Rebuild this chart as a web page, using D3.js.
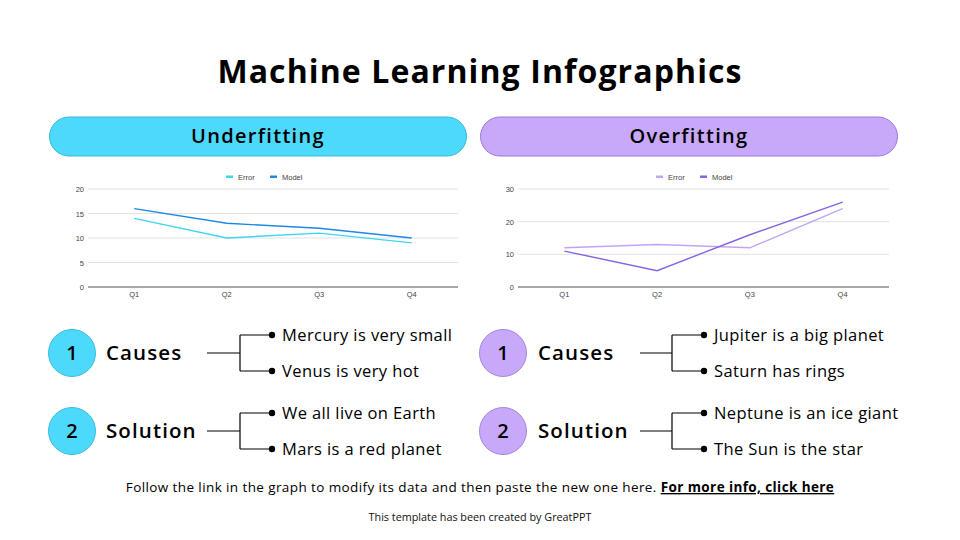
<!DOCTYPE html>
<html><head><meta charset="utf-8">
<script src="https://cdn.jsdelivr.net/npm/d3@7"></script>
<style>
html,body{margin:0;padding:0;background:#fff;}
svg{display:block;font-family:"Open Sans","Noto Sans",sans-serif;}
</style></head>
<body>
<svg id="c" width="960" height="540"></svg>
<script>
const quarters = ["Q1","Q2","Q3","Q4"];
const seriesNames = ["Error","Model"];
const underError = [14,10,11,9];
const underModel = [16,13,12,10];
const overError = [12,13,12,24];
const overModel = [11,5,16,26];
const underTicks = [0,5,10,15,20];
const overTicks = [0,10,20,30];
const panelTitles = ["Underfitting","Overfitting"];
const stepLabels = ["Causes","Solution"];
const underItems = [["Mercury is very small","Venus is very hot"],["We all live on Earth","Mars is a red planet"]];
const overItems = [["Jupiter is a big planet","Saturn has rings"],["Neptune is an ice giant","The Sun is the star"]];

const svg = d3.select("#c");

svg.append("text").attr("x",480).attr("y",83).attr("text-anchor","middle")
  .attr("font-size",32).attr("font-weight",700).attr("fill","#000")
  .attr("letter-spacing","1.1").text("Machine Learning Infographics");

const panels = [
  {x0:49, title:panelTitles[0], fill:"#4dd9fc", stroke:"#35b9dc", circ:"#4dd9fc", circStroke:"#3bbde0",
   err:underError, mod:underModel, ticks:underTicks, ymax:20, errC:"#3fd6f2", modC:"#1e88e5",
   gx0:88, gx1:458, legX:226, items:underItems, circX:72, labX:106, conX0:207, conX1:240, conX2:272},
  {x0:480, title:panelTitles[1], fill:"#c8a8f9", stroke:"#9b78e2", circ:"#c8a8f9", circStroke:"#a587e6",
   err:overError, mod:overModel, ticks:overTicks, ymax:30, errC:"#c3a4f4", modC:"#8763e3",
   gx0:518, gx1:889, legX:656, items:overItems, circX:503, labX:538, conX0:640, conX1:672, conX2:704}
];

panels.forEach(p => {
  // banner
  svg.append("rect").attr("x",p.x0+0.5).attr("y",117).attr("width",417).attr("height",39)
    .attr("rx",19.5).attr("fill",p.fill).attr("stroke",p.stroke).attr("stroke-width",1);
  svg.append("text").attr("x",p.x0+209).attr("y",143).attr("text-anchor","middle")
    .attr("font-size",20).attr("font-weight",600).attr("fill","#000").attr("letter-spacing","1.3").text(p.title);

  // chart
  const x = d3.scalePoint().domain(quarters).range([p.gx0,p.gx1]).padding(0.5);
  const y = d3.scaleLinear().domain([0,p.ymax]).range([287,189]);
  const g = svg.append("g");
  g.append("g").selectAll("line").data(p.ticks.filter(t=>t>0)).join("line")
    .attr("x1",p.gx0).attr("x2",p.gx1).attr("y1",d=>y(d)).attr("y2",d=>y(d))
    .attr("stroke","#e2e2e2").attr("stroke-width",1);
  g.append("line").attr("x1",p.gx0).attr("x2",p.gx1).attr("y1",y(0)).attr("y2",y(0))
    .attr("stroke","#8a8a8a").attr("stroke-width",1.6);
  g.append("g").selectAll("text").data(p.ticks).join("text")
    .attr("x",p.gx0-4).attr("y",d=>y(d)+3).attr("text-anchor","end")
    .attr("font-size",7.5).attr("fill","#444").attr("font-family","Arial, 'Liberation Sans', sans-serif").text(d=>d);
  g.append("g").selectAll("text").data(quarters).join("text")
    .attr("x",d=>x(d)).attr("y",297).attr("text-anchor","middle")
    .attr("font-size",7.5).attr("fill","#444").attr("font-family","Arial, 'Liberation Sans', sans-serif").text(d=>d);
  const line = d3.line().x((d,i)=>x(quarters[i])).y(d=>y(d));
  g.append("path").datum(p.err).attr("d",line).attr("fill","none").attr("stroke",p.errC).attr("stroke-width",1.4);
  g.append("path").datum(p.mod).attr("d",line).attr("fill","none").attr("stroke",p.modC).attr("stroke-width",1.4);
  // legend
  const legCols = [p.errC,p.modC];
  const legOff = [0,44];
  seriesNames.forEach((n,i)=>{
    g.append("rect").attr("x",p.legX+legOff[i]).attr("y",175.5).attr("width",7).attr("height",2.5).attr("fill",legCols[i]);
    g.append("text").attr("x",p.legX+legOff[i]+12).attr("y",179.5).attr("font-size",7.5).attr("fill","#444")
      .attr("font-family","Arial, 'Liberation Sans', sans-serif").text(n);
  });

  // steps
  const rowY = [353,431];
  rowY.forEach((cy,i)=>{
    svg.append("circle").attr("cx",p.circX).attr("cy",cy).attr("r",23.5)
      .attr("fill",p.circ).attr("stroke",p.circStroke).attr("stroke-width",1);
    svg.append("text").attr("x",p.circX).attr("y",cy+7).attr("text-anchor","middle")
      .attr("font-size",20).attr("font-weight",600).attr("fill","#000").text(i+1);
    svg.append("text").attr("x",p.labX).attr("y",cy+7).attr("font-size",20.5).attr("font-weight",600)
      .attr("fill","#000").attr("letter-spacing","1.1").text(stepLabels[i]);
    const ya = cy-18, yb = cy+18;
    svg.append("path").attr("d",`M${p.conX0},${cy}H${p.conX1}M${p.conX1},${ya}V${yb}M${p.conX1},${ya}H${p.conX2}M${p.conX1},${yb}H${p.conX2}`)
      .attr("fill","none").attr("stroke","#000").attr("stroke-width",1.2);
    [ya,yb].forEach((yy,j)=>{
      svg.append("circle").attr("cx",p.conX2).attr("cy",yy).attr("r",3.2).attr("fill","#000");
      svg.append("text").attr("x",p.conX2+10).attr("y",yy+6).attr("font-size",16.5).attr("fill","#000")
        .attr("letter-spacing","0.4").text(p.items[i][j]);
    });
  });
});

const foot = svg.append("text").attr("x",480).attr("y",492).attr("text-anchor","middle").attr("font-size",13.5)
  .attr("letter-spacing","0.4").attr("fill","#000");
foot.append("tspan").text("Follow the link in the graph to modify its data and then paste the new one here. ");
foot.append("tspan").attr("font-weight",700).attr("text-decoration","underline").text("For more info, click here");
svg.append("text").attr("x",480).attr("y",521).attr("text-anchor","middle").attr("font-size",10.8).attr("fill","#111")
  .text("This template has been created by GreatPPT");
</script>
</body></html>
